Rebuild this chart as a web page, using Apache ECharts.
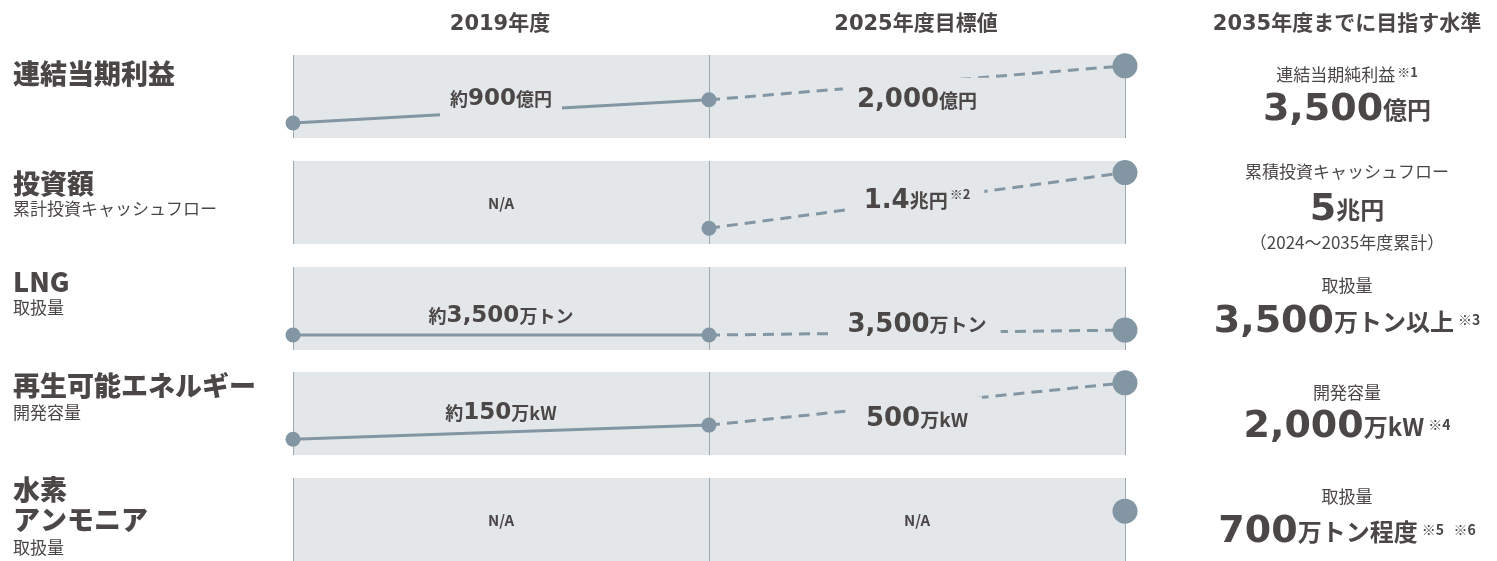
<!DOCTYPE html>
<html>
<head>
<meta charset="utf-8">
<script src="https://cdn.jsdelivr.net/npm/echarts@6/dist/echarts.min.js"></script>
<style>
  html, body { margin: 0; padding: 0; background: #fff; }
  #chart { width: 1497px; height: 561px; }
</style>
</head>
<body>
<div id="chart"></div>
<script>
const columns = ['2019年度', '2025年度目標値', '2035年度までに目指す水準']
const rowTitles = [['連結当期利益'], ['投資額'], ['LNG'], ['再生可能エネルギー'], ['水素', 'アンモニア']]
const rowSubtitles = ['', '累計投資キャッシュフロー', '取扱量', '開発容量', '取扱量']
// 帯の中での高さ (0-100)
const levels2019 = [18, null, 18, 19, null]
const levels2025 = [46, 19, 18, 36, null]
const levels2035 = [87, 86, 24, 87, 60]
const labels2019 = ['約900億円', 'N/A', '約3,500万トン', '約150万kW', 'N/A']
const labels2025 = ['2,000億円', '1.4兆円※2', '3,500万トン', '500万kW', 'N/A']
const labelLevel2019 = [47, 49, 41, 50, 49]
const labelLevel2025 = [45, 52, 30, 43, 49]
const targetNames = ['連結当期純利益※1', '累積投資キャッシュフロー', '取扱量', '開発容量', '取扱量']
const targetValues = ['3,500億円', '5兆円', '3,500万トン以上※3', '2,000万kW※4', '700万トン程度※5 ※6']
const targetNotes = ['', '（2024〜2035年度累計）', '', '', '']

const TEXT = '#4b4746'
const LINE = '#8396a3'
const BAND = '#e3e7ea'
const JP = "'Noto Sans CJK JP', sans-serif"
const NUM = "'DejaVu Sans', 'Noto Sans CJK JP', sans-serif"

// 文字列をrich textに分解
function toRich (text, p) {
  if (text === 'N/A') return '{' + p + 'na|N/A}'
  const tokens = text.match(/約|[0-9][0-9,.]*|※\d|[^0-9※約]+/g)
  return tokens.map(t => {
    let s = 'unit'
    if (t === '約') s = 'pre'
    else if (/^[0-9]/.test(t)) s = 'num'
    else if (t[0] === '※') s = 'sup'
    return '{' + p + s + '|' + t + '}'
  }).join('')
}

function richStyles (p, num, unit, pre, sup, supAlign) {
  const r = {}
  r[p + 'num'] = { fontFamily: NUM, fontWeight: 'bold', fontSize: num, color: TEXT, fill: TEXT }
  r[p + 'unit'] = { fontFamily: JP, fontWeight: 'bold', fontSize: unit, color: TEXT, fill: TEXT }
  r[p + 'pre'] = { fontFamily: JP, fontWeight: 'bold', fontSize: pre, color: TEXT, fill: TEXT }
  r[p + 'sup'] = supAlign === 'middle'
    ? { fontFamily: JP, fontWeight: 'bold', fontSize: sup, color: TEXT, fill: TEXT, verticalAlign: 'middle', padding: [0, 0, 4, 4] }
    : { fontFamily: JP, fontWeight: 'bold', fontSize: sup, color: TEXT, fill: TEXT, verticalAlign: 'top', padding: [0, 0, num * 0.2, 2] }
  r[p + 'na'] = { fontFamily: JP, fontWeight: 'bold', fontSize: 15, color: TEXT, fill: TEXT }
  return r
}

const rich = Object.assign({},
  richStyles('a', 23, 18, 18, 12, 'top'),
  richStyles('b', 26, 19, 19, 13, 'top')
)

const grids = []
const xAxes = []
const yAxes = []
const series = []

rowTitles.forEach((t, i) => {
  const top = 55 + Math.round(i * 105.75)
  grids.push({ left: 293, width: 832, top: top, height: 83, show: true, backgroundColor: BAND, borderWidth: 0 })
  xAxes.push({
    gridIndex: i, type: 'value', min: 0, max: 2, interval: 1,
    axisLabel: { show: false }, axisTick: { show: false }, axisLine: { show: false },
    splitLine: { show: true, showMinLine: true, showMaxLine: true, lineStyle: { color: '#9aabb6', width: 1 } }
  })
  yAxes.push({ gridIndex: i, type: 'value', min: 0, max: 100, show: false })

  const l19 = levels2019[i]
  const l25 = levels2025[i]
  const l35 = levels2035[i]
  if (l19 != null && l25 != null) {
    series.push({
      type: 'line', xAxisIndex: i, yAxisIndex: i, silent: true, z: 2,
      symbol: 'none', data: [[0, l19], [1, l25]],
      lineStyle: { color: LINE, width: 3 }
    })
  }
  if (l25 != null && l35 != null) {
    series.push({
      type: 'line', xAxisIndex: i, yAxisIndex: i, silent: true, z: 2,
      symbol: 'none', data: [[1, l25], [2, l35]],
      lineStyle: { color: LINE, width: 3, type: [11, 7] }
    })
  }
  // ラベル
  series.push({
    type: 'scatter', xAxisIndex: i, yAxisIndex: i, silent: true, z: 3,
    symbolSize: 1, itemStyle: { color: 'rgba(0,0,0,0)', opacity: 1 },
    data: [
      { value: [0.5, labelLevel2019[i]], label: { formatter: toRich(labels2019[i], 'a'), backgroundColor: i === 0 ? BAND : 'transparent', padding: [10, 10] } },
      { value: [1.5, labelLevel2025[i]], label: { formatter: toRich(labels2025[i], 'b'), backgroundColor: BAND, padding: [10, 14] } }
    ],
    label: { show: true, position: 'inside', opacity: 1, rich: rich }
  })
  // マーカー
  const small = []
  if (l19 != null) small.push([0, l19])
  if (l25 != null) small.push([1, l25])
  series.push({
    type: 'scatter', xAxisIndex: i, yAxisIndex: i, silent: true, z: 5,
    symbolSize: 15, itemStyle: { color: LINE, opacity: 1 }, data: small
  })
  series.push({
    type: 'scatter', xAxisIndex: i, yAxisIndex: i, silent: true, z: 5,
    symbolSize: 25, itemStyle: { color: LINE, opacity: 1 }, data: [[2, l35]]
  })
})

const graphic = []
// 列見出し
const headerX = [500, 916, 1347]
columns.forEach((c, i) => {
  graphic.push({
    type: 'text', silent: true,
    style: { text: c, x: headerX[i], y: 25, align: 'center', verticalAlign: 'middle', fill: TEXT, fontFamily: NUM, fontWeight: 'bold', fontSize: 21 }
  })
})

// 左側の項目名
const titleY = [74, 184, 282, 386, 490]
const subY = [0, 209, 308, 413, 548]
rowTitles.forEach((lines, i) => {
  lines.forEach((t, k) => {
    graphic.push({
      type: 'text', silent: true,
      style: { text: t, x: 13, y: titleY[i] + k * 30, align: 'left', verticalAlign: 'middle', fill: TEXT, fontFamily: JP, fontWeight: 900, fontSize: 27 }
    })
  })
  if (rowSubtitles[i]) {
    graphic.push({
      type: 'text', silent: true,
      style: { text: rowSubtitles[i], x: 13, y: subY[i], align: 'left', verticalAlign: 'middle', fill: TEXT, fontFamily: JP, fontSize: 17 }
    })
  }
})

// 右側 2035年度目標
const nameY = [75, 172, 286, 393, 497]
const valueY = [110, 210, 322, 427, 532]
const richRight = Object.assign({}, richStyles('c', 38, 24, 24, 14, 'middle'), {
  nm: { fontFamily: JP, fontSize: 17, fill: TEXT },
  nmsup: { fontFamily: JP, fontWeight: 'bold', fontSize: 13, fill: TEXT, verticalAlign: 'top', padding: [0, 0, 6, 2] }
})
targetNames.forEach((n, i) => {
  const parts = n.match(/※\d|[^※]+/g)
  const txt = parts.map(p => p[0] === '※' ? '{nmsup|' + p + '}' : '{nm|' + p + '}').join('')
  graphic.push({
    type: 'text', silent: true,
    style: { text: txt, rich: richRight, x: 1347, y: nameY[i], align: 'center', verticalAlign: 'middle' }
  })
  graphic.push({
    type: 'text', silent: true,
    style: { text: toRich(targetValues[i], 'c'), rich: richRight, x: 1347, y: valueY[i], align: 'center', verticalAlign: 'middle' }
  })
  if (targetNotes[i]) {
    graphic.push({
      type: 'text', silent: true,
      style: { text: targetNotes[i], x: 1347, y: 243, align: 'center', verticalAlign: 'middle', fill: TEXT, fontFamily: JP, fontSize: 17 }
    })
  }
})

const chart = echarts.init(document.getElementById('chart'))
chart.setOption({
  animation: false,
  grid: grids,
  xAxis: xAxes,
  yAxis: yAxes,
  series: series,
  graphic: graphic
})
</script>
</body>
</html>
